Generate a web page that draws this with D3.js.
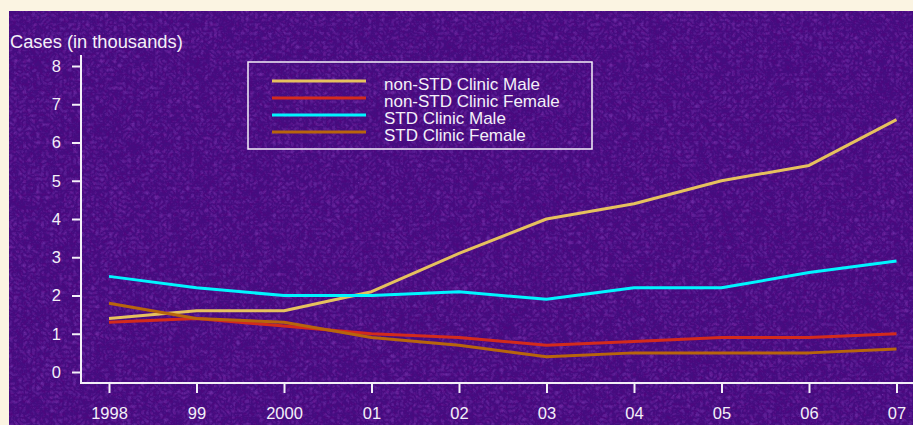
<!DOCTYPE html>
<html>
<head>
<meta charset="utf-8">
<script src="https://cdn.jsdelivr.net/npm/d3@7"></script>
<style>
  html, body { margin: 0; padding: 0; background: #fbf4e2; }
  svg { display: block; }
  text { font-family: "Liberation Sans", Arial, Helvetica, sans-serif; fill: #f4f0f8; }
</style>
</head>
<body>
<svg id="chart" width="913" height="425"></svg>
<script>
// years on the x axis and their labels
const years = [1998, 1999, 2000, 2001, 2002, 2003, 2004, 2005, 2006, 2007];
const yearLabels = ['1998', '99', '2000', '01', '02', '03', '04', '05', '06', '07'];
const yTicks = [0, 1, 2, 3, 4, 5, 6, 7, 8];

// cases in thousands
const nonStdMale = [1.4, 1.6, 1.6, 2.1, 3.1, 4.0, 4.4, 5.0, 5.4, 6.6];
const nonStdFemale = [1.3, 1.4, 1.2, 1.0, 0.9, 0.7, 0.8, 0.9, 0.9, 1.0];
const stdMale = [2.5, 2.2, 2.0, 2.0, 2.1, 1.9, 2.2, 2.2, 2.6, 2.9];
const stdFemale = [1.8, 1.4, 1.3, 0.9, 0.7, 0.4, 0.5, 0.5, 0.5, 0.6];

const seriesNames = ['non-STD Clinic Male', 'non-STD Clinic Female', 'STD Clinic Male', 'STD Clinic Female'];
const seriesColors = ['#e6c15e', '#d32a1c', '#00f5ff', '#b8650c'];
const seriesValues = [nonStdMale, nonStdFemale, stdMale, stdFemale];

const svg = d3.select('#chart');

// purple textured panel
const defs = svg.append('defs');
const lightTex = defs.append('filter').attr('id', 'lightTex')
    .attr('x', 0).attr('y', 0).attr('width', 1).attr('height', 1);
lightTex.append('feTurbulence')
    .attr('type', 'turbulence').attr('baseFrequency', 0.22)
    .attr('numOctaves', 2).attr('seed', 7);
lightTex.append('feColorMatrix').attr('type', 'matrix')
    .attr('values', '0 0 0 0 0.45  0 0 0 0 0.12  0 0 0 0 0.78  1.6 0 0 0 -0.25');
const darkTex = defs.append('filter').attr('id', 'darkTex')
    .attr('x', 0).attr('y', 0).attr('width', 1).attr('height', 1);
darkTex.append('feTurbulence')
    .attr('type', 'fractalNoise').attr('baseFrequency', 0.3)
    .attr('numOctaves', 2).attr('seed', 21);
darkTex.append('feColorMatrix').attr('type', 'matrix')
    .attr('values', '0 0 0 0 0.1  0 0 0 0 0.0  0 0 0 0 0.2  -2.0 0 0 0 1.2');

svg.append('rect').attr('x', 9).attr('y', 11).attr('width', 904).attr('height', 414)
    .attr('fill', '#440d80');
svg.append('rect').attr('x', 9).attr('y', 11).attr('width', 904).attr('height', 414)
    .attr('filter', 'url(#darkTex)').attr('opacity', 0.6);
svg.append('rect').attr('x', 9).attr('y', 11).attr('width', 904).attr('height', 414)
    .attr('filter', 'url(#lightTex)').attr('opacity', 0.35);

const MARGIN = {top: 55, left: 81, bottom: 383};

const xScale = d3.scaleLinear()
    .domain([1998, 2007])
    .range([109, 896.5]);

const yScale = d3.scaleLinear()
    .domain([0, 8])
    .range([372, 66]);

// y axis
const yAxis = d3.axisLeft(yScale)
    .tickValues(yTicks)
    .tickSize(9)
    .tickPadding(11)
    .tickFormat(d3.format('d'));
const yG = svg.append('g')
    .attr('transform', `translate(${MARGIN.left}, 0)`)
    .call(yAxis);
yG.select('.domain').remove();

// x axis
const xAxis = d3.axisBottom(xScale)
    .tickValues(years)
    .tickSize(10)
    .tickPadding(14)
    .tickFormat((d, i) => yearLabels[i]);
const xG = svg.append('g')
    .attr('transform', `translate(0, ${MARGIN.bottom})`)
    .call(xAxis);
xG.select('.domain').remove();

[yG, xG].forEach(g => {
    g.selectAll('.tick line').attr('stroke', '#f4f0f8').attr('stroke-width', 2);
    g.selectAll('.tick text').attr('fill', '#f4f0f8')
        .style('font-size', '16.5px')
        .style('font-family', '"Liberation Sans", Arial, sans-serif');
});

// axis lines (L shape)
svg.append('path')
    .attr('d', `M${MARGIN.left},${MARGIN.top} V${MARGIN.bottom} H913`)
    .attr('fill', 'none')
    .attr('stroke', '#f4f0f8')
    .attr('stroke-width', 2);

// y axis title
svg.append('text')
    .attr('x', 10)
    .attr('y', 48)
    .style('font-size', '18.3px')
    .text('Cases (in thousands)');

// series lines
const line = d3.line()
    .x((d, i) => xScale(years[i]))
    .y(d => yScale(d));

svg.append('g').selectAll('path')
    .data(seriesValues)
    .join('path')
    .attr('d', d => line(d))
    .attr('fill', 'none')
    .attr('stroke', (d, i) => seriesColors[i])
    .attr('stroke-width', 3)
    .attr('stroke-linejoin', 'round');

// legend
const legend = svg.append('g');
legend.append('rect')
    .attr('x', 248).attr('y', 62)
    .attr('width', 344).attr('height', 87)
    .attr('fill', 'none')
    .attr('stroke', '#f4f0f8')
    .attr('stroke-width', 1.5);

const legendY = d3.scaleLinear().domain([0, 3]).range([81, 132]);

legend.selectAll('line')
    .data(seriesNames)
    .join('line')
    .attr('x1', 272).attr('x2', 366)
    .attr('y1', (d, i) => legendY(i))
    .attr('y2', (d, i) => legendY(i))
    .attr('stroke', (d, i) => seriesColors[i])
    .attr('stroke-width', 3);

legend.selectAll('text')
    .data(seriesNames)
    .join('text')
    .attr('x', 384)
    .attr('y', (d, i) => legendY(i) + 9)
    .style('font-size', '17px')
    .text(d => d);
</script>
</body>
</html>
